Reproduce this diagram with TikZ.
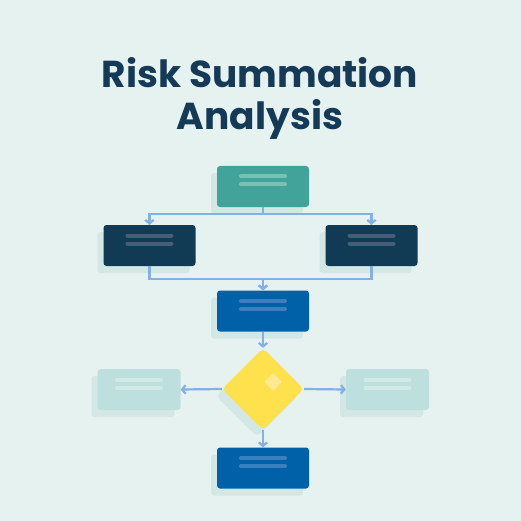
\documentclass[tikz,border=0pt]{standalone}
\usepackage{fontspec}
\setmainfont{Poppins}
\usetikzlibrary{arrows.meta,shapes.geometric,shadows}

\definecolor{bgc}{HTML}{E6F2EF}
\definecolor{titlec}{HTML}{143A57}
\definecolor{tealc}{HTML}{41A399}
\definecolor{tealbar}{HTML}{79C0B5}
\definecolor{navyc}{HTML}{113A55}
\definecolor{navybar}{HTML}{445E78}
\definecolor{bluec}{HTML}{0061A8}
\definecolor{bluebar}{HTML}{3A80BD}
\definecolor{palec}{HTML}{BDE0DE}
\definecolor{palebar}{HTML}{D1EAE8}
\definecolor{yellowc}{HTML}{FFE14D}
\definecolor{yellowin}{HTML}{FFEA8F}
\definecolor{linkc}{HTML}{84B0E3}
\definecolor{shadowc}{HTML}{D3E8E4}

\pgfdeclarelayer{back}
\pgfdeclarelayer{shade}
\pgfsetlayers{back,shade,main}

\tikzset{
  card/.style={rectangle, rounded corners=3pt, minimum width=92pt, minimum height=41pt,
    inner sep=0pt, fill=#1,
    drop shadow={shadow xshift=-6pt, shadow yshift=-7pt, fill=shadowc, opacity=1}},
  sidecard/.style={card=palec, minimum width=83pt},
  decision/.style={diamond, aspect=1, rounded corners=5pt, minimum width=82pt,
    minimum height=82pt, inner sep=0pt, fill=yellowc,
    drop shadow={shadow xshift=-6pt, shadow yshift=-7pt, fill=shadowc, opacity=1}},
  bar/.style={line width=4pt, line cap=round, #1},
  link/.style={line width=2.2pt, linkc, -{Straight Barb[length=3.5pt,width=8.5pt,line width=2.2pt]}},
  linkshade/.style={line width=2.2pt, shadowc, xshift=-6pt, yshift=-7pt},
  heading/.style={font=\fontsize{37.5}{45}\selectfont\bfseries, text=titlec, anchor=base, inner sep=0pt}
}

\begin{document}
\begin{tikzpicture}[x=1pt,y=-1pt]

% Background
\begin{pgfonlayer}{back}
\fill[bgc] (0,0) rectangle (521,521);
\end{pgfonlayer}
\useasboundingbox (0,0) rectangle (521,521);

% Title
\node[heading] (title1) at (260,87.5) {Risk Summation};
\node[heading] (title2) at (260,129.5) {Analysis};

% Boxes
\node[card=tealc] (top) at (263,186.5) {};
\node[card=navyc] (left) at (149.5,245.5) {};
\node[card=navyc] (right) at (371.5,245.5) {};
\node[card=bluec] (merge) at (263,311) {};
\node[decision] (check) at (263,389) {};
\node[sidecard] (no) at (139,389.5) {};
\node[sidecard] (yes) at (387.5,389.5) {};
\node[card=bluec] (result) at (263,468) {};

% Text bars
\foreach \n/\c in {top/tealbar,left/navybar,right/navybar,merge/bluebar,result/bluebar,no/palebar,yes/palebar}
{
  \draw[bar=\c] ([xshift=-22pt,yshift=10pt]\n.center) -- ([xshift=22pt,yshift=10pt]\n.center);
  \draw[bar=\c] ([xshift=-22pt,yshift=2pt]\n.center) -- ([xshift=22pt,yshift=2pt]\n.center);
}

% Highlight on the diamond
\fill[yellowin, rounded corners=1pt] ([xshift=1pt,yshift=7pt]check.center) -- ++(9,-9) -- ++(9,9) -- ++(-9,9) -- cycle;

% Connector shadows
\begin{pgfonlayer}{shade}
\draw[linkshade] (top.south) -- ++(0,6.5) -| (left.north);
\draw[linkshade] (top.south) -- ++(0,6.5) -| (right.north);
\draw[linkshade] (left.south) -- ++(0,13) -| (merge.north);
\draw[linkshade] (right.south) -- ++(0,13) -| (merge.north);
\draw[linkshade] (check.west) -- (no.east);
\draw[linkshade] (check.east) -- (yes.west);
\end{pgfonlayer}

% Connectors
\draw[link] (top.south) -- ++(0,6.5) -| (left.north);
\draw[link] (top.south) -- ++(0,6.5) -| (right.north);
\draw[link] (left.south) -- ++(0,13) -| (merge.north);
\draw[link] (right.south) -- ++(0,13) -| (merge.north);
\draw[link] (merge.south) -- (check.north);
\draw[link] (check.west) -- (no.east);
\draw[link] (check.east) -- (yes.west);
\draw[link] (check.south) -- (result.north);

\end{tikzpicture}
\end{document}
